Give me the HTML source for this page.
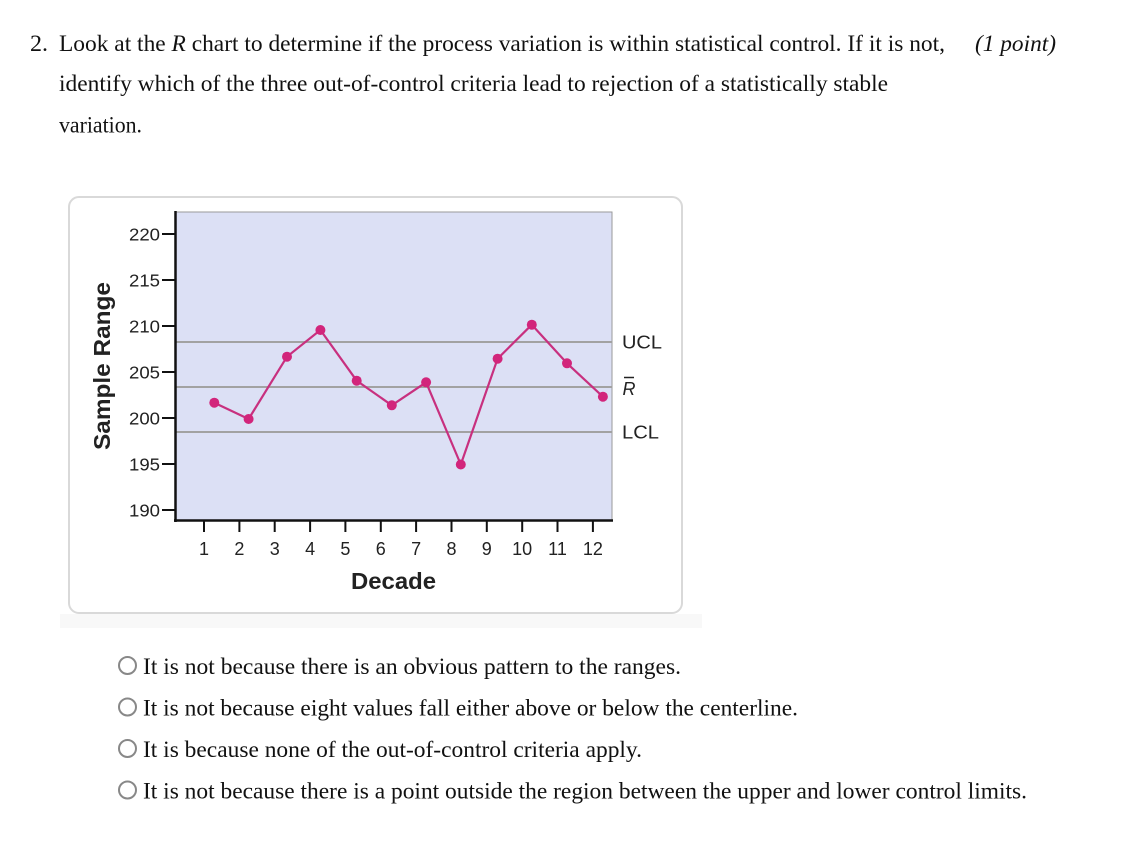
<!DOCTYPE html>
<html>
<head>
<meta charset="utf-8">
<style>
html,body{margin:0;padding:0;background:#fff;}
svg{display:block;}
.serif{font-family:"Liberation Serif","Times New Roman",serif;font-size:23px;fill:#111;}
.sans{font-family:"Liberation Sans",Arial,sans-serif;fill:#222;}
</style>
</head>
<body>
<svg width="1121" height="846" viewBox="0 0 1121 846" xmlns="http://www.w3.org/2000/svg">
  <!-- Question text -->
  <text class="serif" x="30" y="51" textLength="18" lengthAdjust="spacingAndGlyphs">2.</text>
  <text class="serif" x="59" y="51" textLength="886" lengthAdjust="spacingAndGlyphs">Look at the <tspan font-style="italic">R</tspan> chart to determine if the process variation is within statistical control. If it is not,</text>
  <text class="serif" x="975" y="51" font-style="italic" textLength="81" lengthAdjust="spacingAndGlyphs">(1 point)</text>
  <text class="serif" x="59" y="91" textLength="829" lengthAdjust="spacingAndGlyphs">identify which of the three out-of-control criteria lead to rejection of a statistically stable</text>
  <text class="serif" x="59" y="132.5" textLength="83" lengthAdjust="spacingAndGlyphs">variation.</text>

  <!-- Card -->
  <rect x="60" y="614" width="642" height="14" fill="#f8f8f8"/>
  <rect x="69" y="197" width="613" height="416" rx="10" ry="10" fill="#fff" stroke="#d9d9d9" stroke-width="2"/>

  <!-- Plot area -->
  <rect x="176" y="212" width="436" height="309" fill="#dce0f5" stroke="#9a9a9a" stroke-width="1"/>
  <!-- reference lines -->
  <line x1="176" y1="342" x2="612" y2="342" stroke="#a2a2a2" stroke-width="2"/>
  <line x1="176" y1="387" x2="612" y2="387" stroke="#a2a2a2" stroke-width="2"/>
  <line x1="176" y1="432" x2="612" y2="432" stroke="#a2a2a2" stroke-width="2"/>

  <!-- axes -->
  <line x1="175.5" y1="211" x2="175.5" y2="522" stroke="#111" stroke-width="2.5"/>
  <line x1="174" y1="520.5" x2="613" y2="520.5" stroke="#111" stroke-width="2.5"/>

  <!-- y ticks -->
  <g stroke="#111" stroke-width="2">
    <line x1="162" y1="234" x2="176" y2="234"/>
    <line x1="162" y1="280" x2="176" y2="280"/>
    <line x1="162" y1="326" x2="176" y2="326"/>
    <line x1="162" y1="372" x2="176" y2="372"/>
    <line x1="162" y1="418" x2="176" y2="418"/>
    <line x1="162" y1="464" x2="176" y2="464"/>
    <line x1="162" y1="510" x2="176" y2="510"/>
  </g>
  <g class="sans" font-size="17.5" text-anchor="end">
    <text x="160" y="240.5" textLength="31" lengthAdjust="spacingAndGlyphs">220</text>
    <text x="160" y="286.5" textLength="31" lengthAdjust="spacingAndGlyphs">215</text>
    <text x="160" y="332.5" textLength="31" lengthAdjust="spacingAndGlyphs">210</text>
    <text x="160" y="378.5" textLength="31" lengthAdjust="spacingAndGlyphs">205</text>
    <text x="160" y="424.5" textLength="31" lengthAdjust="spacingAndGlyphs">200</text>
    <text x="160" y="470.5" textLength="31" lengthAdjust="spacingAndGlyphs">195</text>
    <text x="160" y="516.5" textLength="31" lengthAdjust="spacingAndGlyphs">190</text>
  </g>

  <!-- x ticks -->
  <g stroke="#111" stroke-width="2">
    <line x1="204" y1="521" x2="204" y2="532"/>
    <line x1="239.4" y1="521" x2="239.4" y2="532"/>
    <line x1="274.7" y1="521" x2="274.7" y2="532"/>
    <line x1="310.1" y1="521" x2="310.1" y2="532"/>
    <line x1="345.4" y1="521" x2="345.4" y2="532"/>
    <line x1="380.8" y1="521" x2="380.8" y2="532"/>
    <line x1="416.1" y1="521" x2="416.1" y2="532"/>
    <line x1="451.5" y1="521" x2="451.5" y2="532"/>
    <line x1="486.8" y1="521" x2="486.8" y2="532"/>
    <line x1="522.2" y1="521" x2="522.2" y2="532"/>
    <line x1="557.5" y1="521" x2="557.5" y2="532"/>
    <line x1="592.9" y1="521" x2="592.9" y2="532"/>
  </g>
  <g class="sans" font-size="18" text-anchor="middle">
    <text x="204" y="555">1</text>
    <text x="239.4" y="555">2</text>
    <text x="274.7" y="555">3</text>
    <text x="310.1" y="555">4</text>
    <text x="345.4" y="555">5</text>
    <text x="380.8" y="555">6</text>
    <text x="416.1" y="555">7</text>
    <text x="451.5" y="555">8</text>
    <text x="486.8" y="555">9</text>
    <text x="522.2" y="555">10</text>
    <text x="557.5" y="555">11</text>
    <text x="592.9" y="555">12</text>
  </g>

  <!-- axis titles -->
  <text class="sans" x="393.5" y="589" font-size="23" font-weight="bold" text-anchor="middle" textLength="85" lengthAdjust="spacingAndGlyphs" fill="#111">Decade</text>
  <text class="sans" transform="translate(110,366) rotate(-90)" x="0" y="0" font-size="23" font-weight="bold" text-anchor="middle" textLength="168" lengthAdjust="spacingAndGlyphs" fill="#111">Sample Range</text>

  <!-- right labels -->
  <text class="sans" x="622" y="348.3" font-size="18" textLength="40" lengthAdjust="spacingAndGlyphs">UCL</text>
  <text class="sans" x="622.5" y="395" font-size="18" font-style="italic">R</text>
  <line x1="624" y1="377.5" x2="634" y2="377.5" stroke="#222" stroke-width="1.5"/>
  <text class="sans" x="622" y="438.3" font-size="18" textLength="37" lengthAdjust="spacingAndGlyphs">LCL</text>

  <!-- data series -->
  <polyline fill="none" stroke="#c8307f" stroke-width="2.2" stroke-linejoin="round"
    points="214.3,402.7 248.6,419 287,356.7 320.4,330 356.7,380.7 391.8,405.3 426.1,382.3 460.8,464.5 497.6,358.7 531.8,324.7 567,363.3 602.9,396.7"/>
  <g fill="#d2257b">
    <circle cx="214.3" cy="402.7" r="5"/>
    <circle cx="248.6" cy="419" r="5"/>
    <circle cx="287" cy="356.7" r="5"/>
    <circle cx="320.4" cy="330" r="5"/>
    <circle cx="356.7" cy="380.7" r="5"/>
    <circle cx="391.8" cy="405.3" r="5"/>
    <circle cx="426.1" cy="382.3" r="5"/>
    <circle cx="460.8" cy="464.5" r="5"/>
    <circle cx="497.6" cy="358.7" r="5"/>
    <circle cx="531.8" cy="324.7" r="5"/>
    <circle cx="567" cy="363.3" r="5"/>
    <circle cx="602.9" cy="396.7" r="5"/>
  </g>

  <!-- options -->
  <g fill="#fff" stroke="#888" stroke-width="2">
    <circle cx="127.5" cy="665.5" r="8.5"/>
    <circle cx="127.5" cy="707" r="8.5"/>
    <circle cx="127.5" cy="748.5" r="8.5"/>
    <circle cx="127.5" cy="790" r="8.5"/>
  </g>
  <text class="serif" x="143" y="674" textLength="538" lengthAdjust="spacingAndGlyphs">It is not because there is an obvious pattern to the ranges.</text>
  <text class="serif" x="143" y="715.5" textLength="655" lengthAdjust="spacingAndGlyphs">It is not because eight values fall either above or below the centerline.</text>
  <text class="serif" x="143" y="757" textLength="499" lengthAdjust="spacingAndGlyphs">It is because none of the out-of-control criteria apply.</text>
  <text class="serif" x="143" y="798.5" textLength="884" lengthAdjust="spacingAndGlyphs">It is not because there is a point outside the region between the upper and lower control limits.</text>
</svg>
</body>
</html>
